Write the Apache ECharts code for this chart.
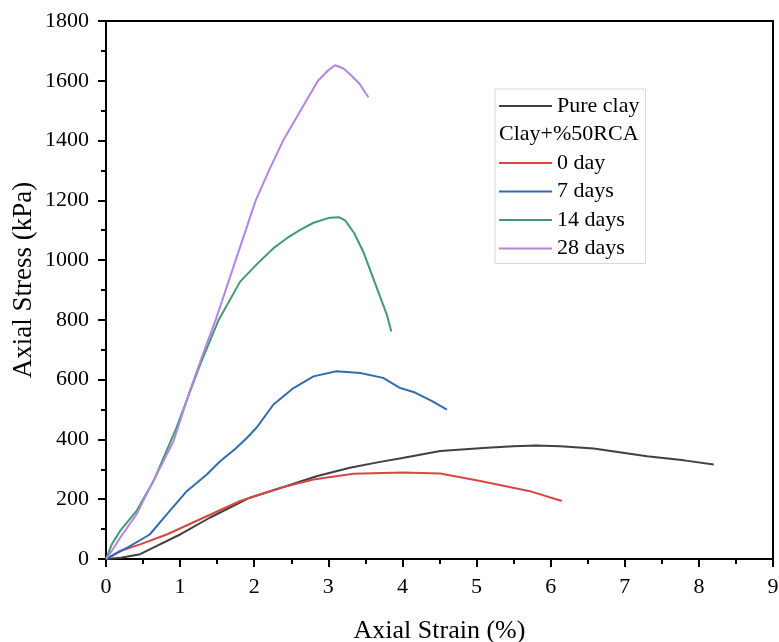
<!DOCTYPE html>
<html>
<head>
<meta charset="utf-8">
<script src="https://cdn.jsdelivr.net/npm/echarts@6/dist/echarts.min.js"></script>
<style>
html,body{margin:0;padding:0;background:#fff;}
#c{width:779px;height:642px;}
</style>
</head>
<body>
<div id="c"></div>
<script>
// Data (Axial Strain %, Axial Stress kPa)
const pureClayX = [0, 0.2, 0.46, 0.68, 1.0, 1.40, 1.94, 2.44, 2.84, 3.29, 3.70, 4.0, 4.51, 5.14, 5.50, 5.8, 6.13, 6.58, 7.30, 7.8, 8.20];
const pureClayY = [0, 4, 16, 43, 82, 138, 205, 244, 277, 305, 325, 338, 361, 372, 377, 380, 377, 370, 344, 330, 316];

const day0X = [0, 0.19, 0.46, 0.82, 1.27, 1.81, 2.35, 2.80, 3.34, 3.74, 4.0, 4.51, 5.05, 5.72, 6.15];
const day0Y = [0, 27, 49, 82, 133, 194, 238, 266, 285, 288, 289, 286, 261, 227, 194];

const day7X = [0, 0.3, 0.59, 0.82, 1.09, 1.36, 1.54, 1.75, 1.90, 2.03, 2.26, 2.53, 2.80, 3.11, 3.43, 3.74, 3.97, 4.15, 4.40, 4.60];
const day7Y = [0, 40, 82, 149, 227, 283, 327, 370, 405, 439, 517, 572, 611, 628, 622, 606, 572, 559, 528, 500];

const day14X = [0, 0.08, 0.19, 0.41, 0.64, 0.95, 1.27, 1.52, 1.81, 2.05, 2.26, 2.45, 2.62, 2.8, 3.02, 3.15, 3.23, 3.35, 3.47, 3.62, 3.79, 3.85];
const day14Y = [0, 50, 94, 160, 260, 439, 650, 800, 928, 990, 1040, 1075, 1101, 1125, 1142, 1143, 1132, 1090, 1029, 930, 817, 761];

const day28X = [0, 0.1, 0.19, 0.41, 0.59, 0.75, 0.91, 1.13, 1.30, 1.48, 1.75, 2.02, 2.2, 2.39, 2.6, 2.86, 3.0, 3.09, 3.2, 3.3, 3.42, 3.54];
const day28Y = [0, 35, 71, 149, 238, 315, 394, 561, 680, 800, 1000, 1200, 1300, 1400, 1490, 1600, 1635, 1652, 1642, 1620, 1590, 1545];

const seriesNames = ['Pure clay', 'Clay+%50RCA', '0 day', '7 days', '14 days', '28 days'];
const seriesColors = ['#404040', '#ffffff', '#d84545', '#2f6db3', '#3f9b70', '#b585dc'];

const xTicks = {min: 0, max: 9, interval: 1};
const yTicks = {min: 0, max: 1800, interval: 200};

function pairs(xs, ys) { return xs.map((x, i) => [x, ys[i]]); }

const FONT = 'Liberation Serif';
const chart = echarts.init(document.getElementById('c'), null, {renderer: 'canvas'});

const dataSets = [pairs(pureClayX, pureClayY), [], pairs(day0X, day0Y), pairs(day7X, day7Y), pairs(day14X, day14Y), pairs(day28X, day28Y)];

const series = seriesNames.map((n, i) => ({
  name: n,
  type: 'line',
  data: dataSets[i],
  symbol: 'none',
  showSymbol: false,
  smooth: false,
  lineStyle: {color: seriesColors[i], width: 2},
  itemStyle: {color: seriesColors[i]},
  z: 2 + i
}));

chart.setOption({
  animation: false,
  backgroundColor: '#fff',
  grid: {left: 106, right: 6, top: 21, bottom: 83, show: true, borderColor: '#000', borderWidth: 2,
         backgroundColor: 'transparent', containLabel: false, outerBoundsMode: 'none'},
  xAxis: {
    type: 'value', min: xTicks.min, max: xTicks.max, interval: xTicks.interval,
    name: 'Axial Strain (%)', nameLocation: 'middle', nameGap: 59, nameMoveOverlap: false,
    nameTextStyle: {fontFamily: FONT, fontSize: 26, color: '#000'},
    axisLine: {lineStyle: {color: '#000', width: 2}},
    axisTick: {show: true, length: 8, lineStyle: {color: '#000', width: 2}},
    minorTick: {show: true, splitNumber: 2, length: 5, lineStyle: {color: '#000', width: 2}},
    splitLine: {show: false},
    axisLabel: {fontFamily: FONT, fontSize: 22, color: '#000', margin: 17, formatter: v => String(v)}
  },
  yAxis: {
    type: 'value', min: yTicks.min, max: yTicks.max, interval: yTicks.interval,
    name: 'Axial Stress (kPa)', nameLocation: 'middle', nameGap: 69, nameMoveOverlap: false,
    nameTextStyle: {fontFamily: FONT, fontSize: 27, color: '#000', padding: [0, 0, 0, 20]},
    axisLine: {lineStyle: {color: '#000', width: 2}},
    axisTick: {show: true, length: 8, lineStyle: {color: '#000', width: 2}},
    minorTick: {show: true, splitNumber: 2, length: 5, lineStyle: {color: '#000', width: 2}},
    splitLine: {show: false},
    axisLabel: {fontFamily: FONT, fontSize: 22, color: '#000', margin: 17, formatter: v => String(v)}
  },
  legend: {
    orient: 'vertical',
    left: 495, top: 89,
    padding: [6, 6, 4, 3],
    itemWidth: 53, itemHeight: 14, itemGap: 6.5,
    borderColor: '#d6d6d6', borderWidth: 1,
    selectedMode: false,
    itemStyle: {opacity: 0},
    data: seriesNames.map((n, i) => i === 1 ? {name: n, icon: 'none'} : {name: n}),
    formatter: function (name) { return name === 'Clay+%50RCA' ? '{h|' + name + '}' : '{t|' + name + '}'; },
    textStyle: {
      fontFamily: FONT, fontSize: 22, color: '#000',
      rich: {
        t: {fontFamily: FONT, fontSize: 22, color: '#000', lineHeight: 22},
        h: {fontFamily: FONT, fontSize: 22, color: '#000', lineHeight: 22, padding: [0, 0, 0, -58]}
      }
    }
  },
  series: series
});
</script>
</body>
</html>
